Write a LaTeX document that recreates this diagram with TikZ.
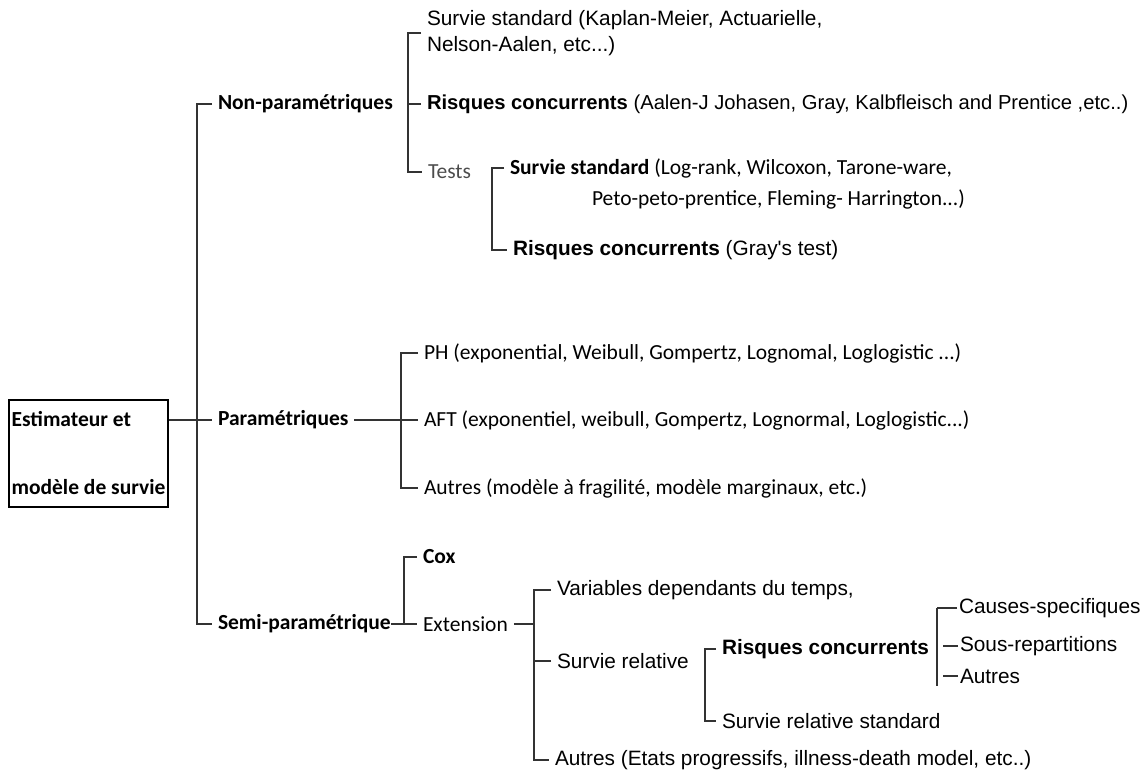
\documentclass[tikz,border=0pt]{standalone}
\usepackage{fontspec}
\setmainfont{Carlito}
\newfontfamily\arialfont{Liberation Sans}
\begin{document}
\begin{tikzpicture}[x=1pt, y=-1pt, line width=1.3pt,
	lbl/.style = {anchor=west, inner xsep=0pt, outer xsep=6pt, inner ysep=2pt},
	cal/.style = {lbl, font=\fontsize{21.5}{26}\selectfont},
	calb/.style = {cal, font=\fontsize{21.5}{26}\selectfont\bfseries},
	ari/.style = {lbl, font=\arialfont\fontsize{20.8}{26}\selectfont},
	arib/.style = {ari, font=\arialfont\fontsize{20.8}{26}\selectfont\bfseries},
	link/.style = {draw=black!80}]

		\useasboundingbox (0,0) rectangle (1147,776);

		% root
		\node[draw, line width=1.2pt, minimum width=159pt, minimum height=107pt, inner sep=0pt, align=left,
			font=\fontsize{21.5}{68}\selectfont\bfseries] (root) at (88.5,453.5) {Estimateur et\\modèle de survie};

		\node[calb] (np) at (212,104) {Non-paramétriques};
		\node[calb] (par) at (212,420) {Paramétriques};
		\node[calb] (semi) at (212,624) {Semi-paramétrique};

		% non parametric
		\node[ari, align=left] (ss) at (421,33) {Survie standard (Kaplan-Meier, Actuarielle,\\Nelson-Aalen, etc...)};
		\node[ari, font=\arialfont\fontsize{20.2}{26}\selectfont] (rc1) at (421,104) {\textbf{Risques concurrents} (Aalen-J Johasen, Gray, Kalbfleisch and Prentice ,etc..)};
		\node[cal, text=black!70] (tests) at (422,172) {Tests};
		\node[cal] (tss) at (504,168) {\textbf{Survie standard} (Log-rank, Wilcoxon, Tarone-ware,};
		\node[cal] (tss2) at (586,199) {Peto-peto-prentice, Fleming- Harrington...)};
		\node[ari] (trc) at (507,250) {\textbf{Risques concurrents} (Gray's test)};

		% parametric
		\node[cal] (ph) at (418,353) {PH (exponential, Weibull, Gompertz, Lognomal, Loglogistic ...)};
		\node[cal] (aft) at (418,420) {AFT (exponentiel, weibull, Gompertz, Lognormal, Loglogistic...)};
		\node[cal] (aut1) at (418,488) {Autres (modèle à fragilité, modèle marginaux, etc.)};

		% semi parametric
		\node[calb] (cox) at (417,557) {Cox};
		\node[cal] (ext) at (417,624) {Extension};
		\node[ari] (vdt) at (551,590) {Variables dependants du temps,};
		\node[ari] (srel) at (551,661) {Survie relative};
		\node[ari] (aut2) at (549,760) {Autres (Etats progressifs, illness-death model, etc..)};
		\node[arib] (rc3) at (716,649) {Risques concurrents};
		\node[ari] (srs) at (716,721) {Survie relative standard};
		\node[ari, outer xsep=2pt] (cs) at (957,608) {Causes-specifiques};
		\node[ari, outer xsep=2pt] (sr) at (958,646) {Sous-repartitions};
		\node[ari, outer xsep=2pt] (aut3) at (958,676) {Autres};

		\coordinate (mainx) at (197,0);
		\coordinate (npx) at (408,0);
		\coordinate (testx) at (492,0);
		\coordinate (parx) at (401,0);
		\coordinate (semix) at (404,0);
		\coordinate (extx) at (534,0);
		\coordinate (srelx) at (705,0);
		\coordinate (rcx) at (937,0);

		\draw[link] (np.west) -| (mainx |- semi.west) -- (semi.west);
		\draw[link] (root.east |- par.west) -- (par.west);

		\draw[link] (ss.west) -| (npx |- tests.west) -- (tests.west);
		\draw[link] (rc1.west) -- (npx |- rc1.west);
		\draw[link] (tss.west) -| (testx |- trc.west) -- (trc.west);

		\draw[link] (ph.west) -| (parx |- aut1.west) -- (aut1.west);
		\draw[link] (par.east) -- (aft.west);

		\draw[link] (cox.west) -| (semix |- ext.west) -- (ext.west);
		\draw[link] ([xshift=-6pt]semi.east) -- (semix |- semi.east);
		\draw[link] (ext.east) -- (extx |- ext.east);
		\draw[link] (vdt.west) -| (extx |- aut2.west) -- (aut2.west);
		\draw[link] (srel.west) -- (extx |- srel.west);
		\draw[link] (rc3.west) -| (srelx |- srs.west) -- (srs.west);

		\draw[link, line width=2.8pt] (rcx |- cs.west) -- (rcx |- aut3.south);
		\draw[link] (cs.west) -- (rcx |- cs.west);
		\draw[link] (sr.west) -- ([xshift=6pt]rcx |- sr.west);
		\draw[link] (aut3.west) -- ([xshift=6pt]rcx |- aut3.west);
	\end{tikzpicture}
\end{document}
